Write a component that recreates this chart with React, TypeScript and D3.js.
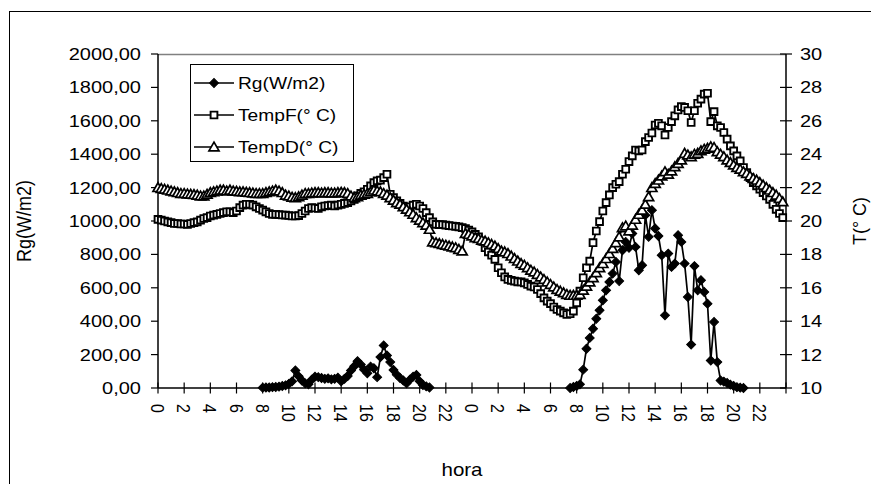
import React from 'react';
import * as d3 from 'd3';

// ---------- DATA (15-minute readings, two days) ----------
const xTickLabels = ['0','2','4','6','8','10','12','14','16','18','20','22','0','2','4','6','8','10','12','14','16','18','20','22'];
const leftTicks = [0, 200, 400, 600, 800, 1000, 1200, 1400, 1600, 1800, 2000];
const rightTicks = [10, 12, 14, 16, 18, 20, 22, 24, 26, 28, 30];

const stepHours = 0.25;

const tempF = [
  20.10, 20.05, 20.00, 19.95, 19.90, 19.85, 19.85, 19.82, 19.82, 19.80, 19.85, 19.90,
  19.95, 20.05, 20.15, 20.20, 20.30, 20.35, 20.40, 20.45, 20.50, 20.55, 20.55, 20.50,
  20.60, 20.80, 20.95, 21.00, 21.00, 20.95, 20.85, 20.75, 20.65, 20.55, 20.45, 20.40,
  20.40, 20.38, 20.36, 20.35, 20.33, 20.30, 20.30, 20.32, 20.45, 20.60, 20.75, 20.80,
  20.78, 20.75, 20.85, 20.90, 20.92, 20.95, 20.90, 20.95, 21.00, 21.05, 21.10, 21.20,
  21.30, 21.50, 21.65, 21.75, 21.90, 22.10, 22.30, 22.40, 22.45, 22.60, 22.80, 21.60,
  21.40, 21.20, 21.05, 20.90, 20.80, 20.85, 20.95, 21.00, 20.90, 20.75, 20.50, 20.20,
  19.95, 19.80, 19.78, 19.78, 19.75, 19.72, 19.70, 19.68, 19.65, 19.60, 19.55, 19.45,
  19.35, 19.20, 19.05, 18.80, 18.40, 18.15, 17.95, 17.70, 17.20, 16.90, 16.65, 16.50,
  16.45, 16.40, 16.36, 16.35, 16.30, 16.20, 16.10, 16.05, 15.90, 15.65, 15.40, 15.20,
  15.05, 14.85, 14.70, 14.60, 14.50, 14.40, 14.45, 14.60, 15.10, 15.80, 16.60, 17.20,
  17.60, 18.70, 19.40, 19.96, 20.60, 21.10, 21.56, 22.00, 22.20, 22.36, 22.80, 23.10,
  23.56, 23.90, 24.25, 24.20, 24.25, 24.75, 25.00, 25.27, 25.75, 25.85, 25.70, 25.15,
  25.60, 25.95, 26.30, 26.65, 26.85, 26.80, 26.60, 25.90, 26.60, 27.05, 27.30, 27.60,
  27.65, 25.95, 26.55, 25.70, 25.60, 25.30, 24.90, 24.50, 24.20, 23.90, 23.60, 23.20,
  22.90, 22.60, 22.30, 22.10, 21.90, 21.70, 21.50, 21.30, 21.00, 20.70, 20.45, 20.20,
];

const tempD = [
  22.00, 21.95, 21.90, 21.85, 21.80, 21.75, 21.70, 21.65, 21.65, 21.62, 21.60, 21.58,
  21.55, 21.50, 21.50, 21.60, 21.70, 21.75, 21.80, 21.85, 21.85, 21.80, 21.85, 21.80,
  21.78, 21.75, 21.75, 21.72, 21.70, 21.68, 21.65, 21.65, 21.65, 21.70, 21.75, 21.80,
  21.85, 21.80, 21.70, 21.55, 21.50, 21.42, 21.40, 21.45, 21.55, 21.65, 21.65, 21.68,
  21.70, 21.70, 21.68, 21.70, 21.70, 21.68, 21.68, 21.70, 21.72, 21.70, 21.65, 21.50,
  21.40, 21.45, 21.55, 21.60, 21.65, 21.75, 21.85, 21.80, 21.75, 21.65, 21.55, 21.40,
  21.25, 21.10, 21.00, 20.85, 20.70, 20.55, 20.40, 20.20, 20.05, 19.90, 19.75, 19.50,
  18.75, 18.70, 18.65, 18.60, 18.55, 18.50, 18.45, 18.40, 18.30, 18.20, 19.25, 19.20,
  19.10, 19.00, 18.95, 18.85, 18.80, 18.70, 18.60, 18.50, 18.35, 18.20, 18.15, 18.05,
  17.90, 17.75, 17.60, 17.45, 17.35, 17.20, 17.05, 16.95, 16.80, 16.65, 16.50, 16.35,
  16.20, 16.05, 15.90, 15.80, 15.70, 15.60, 15.55, 15.55, 15.55, 15.60, 15.85, 16.10,
  16.35, 16.60, 16.90, 17.20, 17.45, 17.75, 18.05, 18.35, 18.70, 19.05, 19.60, 19.70,
  19.40, 19.75, 20.10, 20.40, 20.65, 21.00, 21.45, 22.00, 22.25, 22.45, 22.70, 22.95,
  22.80, 23.00, 23.25, 23.45, 23.65, 24.05, 23.95, 23.85, 24.00, 24.05, 24.20, 24.30,
  24.35, 24.45, 24.40, 24.15, 24.00, 23.85, 23.65, 23.50, 23.35, 23.20, 23.10, 22.95,
  22.85, 22.70, 22.55, 22.45, 22.30, 22.15, 22.00, 21.85, 21.70, 21.55, 21.35, 21.15,
];

const rgDay1Start = 8.0;
const rgDay1 = [
  2, 3, 3, 5, 6, 8, 12, 16, 25, 40, 105, 70, 45, 28, 22, 50, 68, 65, 60, 55,
  58, 52, 55, 62, 40, 55, 72, 105, 130, 160, 140, 110, 88, 128, 118, 65, 185, 255,
  195, 155, 108, 80, 60, 45, 28, 50, 68, 78, 40, 18, 10, 3,
];
const rgDay2Start = 31.5;
const rgDay2 = [
  0, 6, 12, 22, 110, 235, 300, 355, 415, 465, 525, 585, 635, 685, 755, 640, 825, 875,
  840, 925, 845, 705, 735, 1035, 905, 1065, 955, 910, 795, 435, 805, 725, 745, 915,
  875, 745, 545, 260, 730, 585, 645, 575, 505, 165, 395, 155, 45, 38, 30, 20, 12, 5, 2, 0,
];

const seriesNames = ['Rg(W/m2)', 'TempF(° C)', 'TempD(° C)'];

// ---------- LAYOUT ----------
const W = 871, H = 484;
const plot = { left: 158, right: 786, top: 54, bottom: 388 };
const FONT = 'Liberation Sans, Arial, sans-serif';

const x = d3.scaleLinear().domain([0, 48]).range([plot.left, plot.right]);
const yL = d3.scaleLinear().domain([0, 2000]).range([plot.bottom, plot.top]);
const yR = d3.scaleLinear().domain([10, 30]).range([plot.bottom, plot.top]);

type P = { h: number; v: number };
const toPts = (arr: number[], start: number): P[] => arr.map((v, i) => ({ h: start + i * stepHours, v }));

const fPts = toPts(tempF, 0);
const dPts = toPts(tempD, 0);
const rg1 = toPts(rgDay1, rgDay1Start);
const rg2 = toPts(rgDay2, rgDay2Start);

const lineR = d3.line<P>().x(d => x(d.h)).y(d => yR(d.v));
const lineL = d3.line<P>().x(d => x(d.h)).y(d => yL(d.v));

const fmtL = (v: number) => d3.format('.2f')(v).replace('.', ',');

const diamond = d3.symbol().type(d3.symbolSquare).size(40);
const squareSym = d3.symbol().type(d3.symbolSquare).size(46);
const triSym = d3.symbol().type(d3.symbolTriangle).size(44);

function Txt(props: { x: number; y: number; sx?: number; rot?: number; anchor?: string; size: number; children: React.ReactNode }) {
  const { x: tx, y: ty, sx = 1, rot = 0, anchor = 'start', size, children } = props;
  return (
    <text
      transform={`translate(${tx},${ty}) scale(${sx},1)${rot ? ` rotate(${rot})` : ''}`}
      textAnchor={anchor as any}
      fontSize={size}
      fontFamily={FONT}
      fill="#000"
    >
      {children}
    </text>
  );
}

function DiamondM({ cx, cy }: { cx: number; cy: number }) {
  return <path d={diamond() as string} transform={`translate(${cx},${cy}) rotate(45)`} fill="#000" stroke="#000" strokeWidth={1} />;
}
function SquareM({ cx, cy }: { cx: number; cy: number }) {
  return <path d={squareSym() as string} transform={`translate(${cx},${cy})`} fill="#fff" stroke="#000" strokeWidth={1.9} />;
}
function TriM({ cx, cy }: { cx: number; cy: number }) {
  return <path d={triSym() as string} transform={`translate(${cx},${cy + 1})`} fill="#fff" stroke="#000" strokeWidth={1.7} />;
}

export default function App() {
  const xTicks = d3.range(0, 49, 2);
  const tickFs = 16, tickSx = 1.25;
  const xlabFs = 16, xlabSx = 1.2;
  return (
    <svg width={W} height={H} style={{ position: 'absolute', left: 0, top: 0, background: '#fff' }}>
      <rect x={0} y={0} width={W} height={H} fill="#fff" />
      {/* chart area border */}
      <rect x={9.5} y={11.5} width={W + 40} height={H + 40} fill="none" stroke="#000" strokeWidth={1} />

      {/* plot area border (gray) */}
      <line x1={plot.left} x2={plot.right} y1={plot.top + 0.5} y2={plot.top + 0.5} stroke="#808080" strokeWidth={1.5} />

      {/* left axis */}
      <line x1={plot.left} x2={plot.left} y1={plot.top} y2={plot.bottom} stroke="#000" strokeWidth={1.5} />
      {leftTicks.map(t => (
        <g key={'l' + t}>
          <line x1={plot.left - 7} x2={plot.left} y1={yL(t)} y2={yL(t)} stroke="#000" strokeWidth={1.2} />
          <Txt x={141} y={yL(t) + 6} sx={tickSx} anchor="end" size={tickFs}>{fmtL(t)}</Txt>
        </g>
      ))}

      {/* right axis */}
      <line x1={plot.right} x2={plot.right} y1={plot.top} y2={plot.bottom} stroke="#000" strokeWidth={1.5} />
      {rightTicks.map(t => (
        <g key={'r' + t}>
          <line x1={plot.right - 6} x2={plot.right + 6} y1={yR(t)} y2={yR(t)} stroke="#000" strokeWidth={1.2} />
          <Txt x={800} y={yR(t) + 6} sx={tickSx} anchor="start" size={tickFs}>{String(t)}</Txt>
        </g>
      ))}

      {/* x axis */}
      <line x1={plot.left} x2={plot.right} y1={plot.bottom} y2={plot.bottom} stroke="#000" strokeWidth={1.5} />
      {xTicks.map((h, i) => (
        <g key={'x' + h}>
          <line x1={x(h)} x2={x(h)} y1={plot.bottom - 5.5} y2={plot.bottom + 5.5} stroke="#000" strokeWidth={1.2} />
          {i < xTickLabels.length && (
            <Txt x={x(h) - (0.716 * xlabFs * xlabSx) / 2} y={404} sx={xlabSx} rot={90} anchor="start" size={xlabFs}>
              {xTickLabels[i]}
            </Txt>
          )}
        </g>
      ))}

      {/* axis titles */}
      <Txt x={31} y={221} sx={1.1} rot={-90} anchor="middle" size={18}>Rg(W/m2)</Txt>
      <Txt x={866} y={221} sx={1.0} rot={-90} anchor="middle" size={18}>T(° C)</Txt>
      <Txt x={462} y={476} sx={1.14} anchor="middle" size={18}>hora</Txt>

      {/* Rg series */}
      <path d={lineL(rg1) as string} fill="none" stroke="#000" strokeWidth={1.7} />
      <path d={lineL(rg2) as string} fill="none" stroke="#000" strokeWidth={1.7} />
      {[...rg1, ...rg2].map((p, i) => <DiamondM key={'rg' + i} cx={x(p.h)} cy={yL(p.v)} />)}

      {/* TempF series */}
      <path d={lineR(fPts) as string} fill="none" stroke="#000" strokeWidth={1.7} />
      {fPts.map((p, i) => <SquareM key={'f' + i} cx={x(p.h)} cy={yR(p.v)} />)}

      {/* TempD series */}
      <path d={lineR(dPts) as string} fill="none" stroke="#000" strokeWidth={1.7} />
      {dPts.map((p, i) => <TriM key={'d' + i} cx={x(p.h)} cy={yR(p.v)} />)}

      {/* legend */}
      <rect x={190.5} y={64.5} width={163} height={97} fill="#fff" stroke="#000" strokeWidth={1} />
      {seriesNames.map((name, i) => {
        const ly = 83 + i * 32;
        return (
          <g key={name}>
            <line x1={194} x2={234} y1={ly} y2={ly} stroke="#000" strokeWidth={1.7} />
            {i === 0 && <DiamondM cx={214} cy={ly} />}
            {i === 1 && <SquareM cx={214} cy={ly} />}
            {i === 2 && <TriM cx={214} cy={ly} />}
            <Txt x={238} y={ly + 6} sx={1.2} anchor="start" size={16}>{name}</Txt>
          </g>
        );
      })}
    </svg>
  );
}
